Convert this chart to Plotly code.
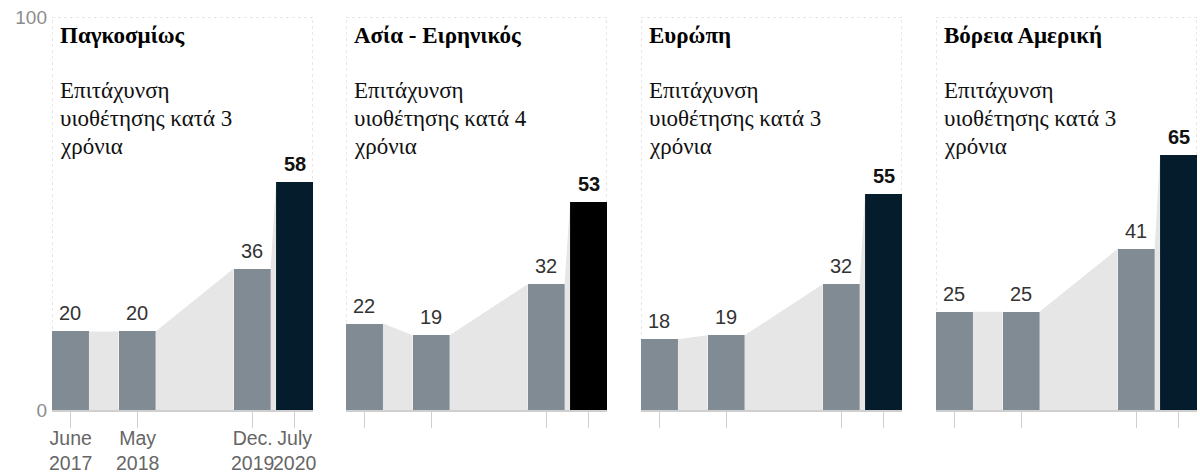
import pandas as pd
import plotly.graph_objects as go

# Survey waves and their axis labels
survey_dates = ["2017-06", "2018-05", "2019-12", "2020-07"]
date_labels = ["June<br>2017", "May<br>2018", "Dec.<br>2019", "July<br>2020"]

# Regions and the headline under each title
regions = ["Παγκοσμίως", "Ασία - Ειρηνικός", "Ευρώπη", "Βόρεια Αμερική"]
speedup_years = [3, 4, 3, 3]

# Share of digitised interactions (%) per survey wave
global_values = [20, 20, 36, 58]
asia_pacific_values = [22, 19, 32, 53]
europe_values = [18, 19, 32, 55]
north_america_values = [25, 25, 41, 65]

y_ticks = [0, 100]

series = [global_values, asia_pacific_values, europe_values, north_america_values]

BAR_GREY = "#818b94"
HIGHLIGHT = ["#051c2c", "#000000", "#051c2c", "#051c2c"]
FILL_GREY = "#e6e6e6"
LINE_GREY = "#cfcfcf"
SANS = "Liberation Sans, Arial, sans-serif"
SERIF = "Liberation Serif, Times New Roman, serif"

# Time axis in months since the first wave
periods = pd.PeriodIndex(survey_dates, freq="M")
months = [(p - periods[0]).n for p in periods]
BAR_W = 6.1
x_range = [months[0] - BAR_W / 2, months[-1] + BAR_W / 2]

W, H = 1200, 475
panel_left = [52, 346, 641, 936]
panel_width = 261
plot_top, plot_bottom = 17, 410
TICK_LEN = 16

# vertical placement of the panel headings (pixels from the top)
TITLE_TOP = 21
SUB_TOP = 76
SUB_STEP = 28

fig = go.Figure()
annotations = []
shapes = []

for i, (region, vals) in enumerate(zip(regions, series)):
    suffix = "" if i == 0 else str(i + 1)
    xref, yref = "x" + suffix, "y" + suffix

    # light grey bands joining neighbouring bars
    fx, fy = [], []
    for k in range(len(vals) - 1):
        r = months[k] + BAR_W / 2
        l = months[k + 1] - BAR_W / 2
        fx += [r, r, l, l, r, None]
        fy += [0, vals[k], vals[k + 1], 0, 0, None]
    fig.add_trace(go.Scatter(
        x=fx, y=fy, xaxis=xref, yaxis=yref, mode="lines", fill="toself",
        fillcolor=FILL_GREY, line=dict(width=0, color=FILL_GREY),
        hoverinfo="skip", showlegend=False,
    ))

    colors = [BAR_GREY] * (len(vals) - 1) + [HIGHLIGHT[i]]
    fig.add_trace(go.Bar(
        x=months, y=vals, width=BAR_W, xaxis=xref, yaxis=yref,
        marker=dict(color=colors, line=dict(width=0)),
        showlegend=False, hoverinfo="skip",
    ))

    for k, (m, v) in enumerate(zip(months, vals)):
        last = k == len(vals) - 1
        annotations.append(dict(
            x=m, y=v, xref=xref, yref=yref, xanchor="center", yanchor="bottom",
            yshift=5, showarrow=False,
            text=f"<b>{v}</b>" if last else str(v),
            font=dict(family=SANS, size=20, color="#111111" if last else "#333333"),
        ))

    # date labels under the first panel only
    if i == 0:
        for m, lab in zip(months, date_labels):
            annotations.append(dict(
                x=m, y=0, xref=xref, yref=yref, xanchor="center", yanchor="top",
                yshift=-(TICK_LEN - 1), showarrow=False, text=lab,
                font=dict(family=SANS, size=19.5, color="#666666"),
            ))

    annotations.append(dict(
        x=0, y=1, xref=xref + " domain", yref="paper", xshift=6, yshift=-TITLE_TOP,
        xanchor="left", yanchor="top", showarrow=False, align="left",
        text=f"<b>{region}</b>",
        font=dict(family=SERIF, size=23, color="#000000"),
    ))
    sub_lines = ["Επιτάχυνση", f"υιοθέτησης κατά {speedup_years[i]}", "χρόνια"]
    for j, line in enumerate(sub_lines):
        annotations.append(dict(
            x=0, y=1, xref=xref + " domain", yref="paper", xshift=6,
            yshift=-(SUB_TOP + j * SUB_STEP),
            xanchor="left", yanchor="top", showarrow=False, align="left",
            text=line,
            font=dict(family=SERIF, size=23, color="#111111"),
        ))

    shapes.append(dict(
        type="rect", xref=xref, yref=yref, x0=x_range[0], x1=x_range[1], y0=0, y1=100,
        line=dict(color=LINE_GREY, width=1, dash="dot"), layer="below",
    ))

    left = panel_left[i] / W
    right = (panel_left[i] + panel_width) / W
    fig.layout["xaxis" + suffix] = dict(
        domain=[left, right], range=x_range, anchor=yref, automargin=False,
        tickvals=months, showticklabels=False,
        ticks="outside", ticklen=TICK_LEN, tickcolor=LINE_GREY, tickwidth=1,
        showline=True, linecolor=LINE_GREY, linewidth=1.5,
        showgrid=False, zeroline=False, fixedrange=True,
    )
    fig.layout["yaxis" + suffix] = dict(
        domain=[1 - plot_bottom / H, 1 - plot_top / H], range=[0, 100], anchor=xref,
        automargin=False,
        tickvals=y_ticks, showticklabels=(i == 0), ticks="", ticklabelstandoff=4,
        showgrid=False, zeroline=False, showline=False, fixedrange=True,
        tickfont=dict(family=SANS, size=19, color="#8c8c8c"),
    )

fig.update_layout(
    width=W, height=H, margin=dict(l=0, r=0, t=0, b=0),
    paper_bgcolor="white", plot_bgcolor="rgba(0,0,0,0)",
    annotations=annotations, shapes=shapes, bargap=0,
)

fig.write_html("out.html")
